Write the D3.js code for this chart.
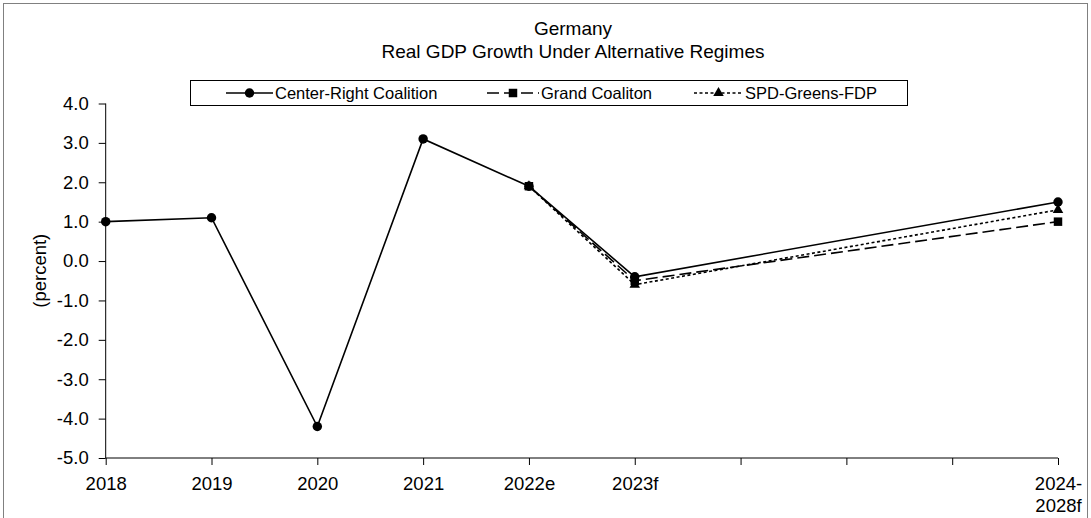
<!DOCTYPE html>
<html>
<head>
<meta charset="utf-8">
<script src="https://cdn.jsdelivr.net/npm/d3@7"></script>
<style>
  html, body { margin: 0; padding: 0; background: #fff; }
  svg { display: block; font-family: "Liberation Sans", Arial, sans-serif; }
</style>
</head>
<body>
<svg id="chart" width="1091" height="518"></svg>
<script>
// Categories along the x axis (blank slots pad the multi-year forecast)
const categories = ["2018", "2019", "2020", "2021", "2022e", "2023f", "", "", "", "2024-2028f"];

// Real GDP growth, percent, by coalition scenario
const centerRight    = [1.0, 1.1, -4.2, 3.1, 1.9, -0.4, null, null, null, 1.5];
const grandCoalition = [null, null, null, null, 1.9, -0.5, null, null, null, 1.0];
const spdGreensFdp   = [null, null, null, null, 1.9, -0.6, null, null, null, 1.3];

const yTicks = [-5, -4, -3, -2, -1, 0, 1, 2, 3, 4];
const seriesNames = ["Center-Right Coalition", "Grand Coaliton", "SPD-Greens-FDP"];

const svg = d3.select("#chart");
const W = 1091, H = 518;
const FONT = "Liberation Sans, Arial, sans-serif";
const TICK_FONT = 18.5;

// outer frame
svg.append("rect")
  .attr("x", 3.5).attr("y", 3.5)
  .attr("width", W - 7).attr("height", H + 10)
  .attr("fill", "#fff").attr("stroke", "#808080").attr("stroke-width", 1);

const x = d3.scalePoint()
  .domain(d3.range(categories.length))
  .range([105.7, 1058]);

const y = d3.scaleLinear()
  .domain([-5, 4])
  .range([458, 103.5]);

// titles
svg.append("text")
  .attr("x", 573).attr("y", 35)
  .attr("text-anchor", "middle")
  .attr("font-size", 19)
  .text("Germany");
svg.append("text")
  .attr("x", 573).attr("y", 58)
  .attr("text-anchor", "middle")
  .attr("font-size", 19)
  .text("Real GDP Growth Under Alternative Regimes");

// one decimal, plain hyphen for negatives
const fmt = v => d3.format(".1f")(v).replace("\u2212", "-");

// y axis
const yAxis = svg.append("g")
  .attr("transform", `translate(${x(0)},0)`)
  .call(d3.axisLeft(y).tickValues(yTicks).tickFormat(fmt).tickSize(7).tickPadding(10));
yAxis.selectAll("text").attr("font-size", TICK_FONT).attr("fill", "#000").attr("font-family", FONT);
yAxis.selectAll("line, path").attr("stroke", "#000");
yAxis.select(".domain").attr("d", `M0,${y(4)}V${y(-5)}`);

// y axis title
svg.append("text")
  .attr("transform", `translate(46,${(y(4) + y(-5)) / 2 - 10}) rotate(-90)`)
  .attr("text-anchor", "middle")
  .attr("font-size", TICK_FONT)
  .text("(percent)");

// x axis
const xAxis = svg.append("g")
  .attr("transform", `translate(0,${y(-5)})`)
  .call(d3.axisBottom(x).tickFormat(i => categories[i]).tickSize(7).tickPadding(12));
xAxis.selectAll("line, path").attr("stroke", "#000");
xAxis.select(".domain").attr("d", `M${x(0)},0H${x(categories.length - 1)}`);
xAxis.selectAll("text")
  .attr("font-size", TICK_FONT).attr("fill", "#000")
  .attr("font-family", FONT)
  .each(function (i) {
    const label = categories[i];
    if (label.includes("-")) {
      const parts = label.split("-");
      const t = d3.select(this).text(null);
      t.append("tspan").attr("x", 0).text(parts[0] + "-");
      t.append("tspan").attr("x", 0).attr("dy", "1.18em").text(parts[1]);
    }
  });

// lines
const line = d3.line()
  .defined(d => d.v !== null)
  .x(d => x(d.i))
  .y(d => y(d.v));

function toPoints(arr) {
  return arr.map((v, i) => ({ i, v })).filter(d => d.v !== null);
}

const series = [
  { name: seriesNames[0], values: centerRight, dash: null, marker: "circle" },
  { name: seriesNames[2], values: spdGreensFdp, dash: "3,2.5", marker: "triangle" },
  { name: seriesNames[1], values: grandCoalition, dash: "12,5", marker: "square" }
];

const symbols = {
  circle: d3.symbol().type(d3.symbolCircle).size(70),
  square: d3.symbol().type(d3.symbolSquare).size(72),
  triangle: d3.symbol().type(d3.symbolTriangle).size(48)
};

series.forEach(s => {
  const pts = toPoints(s.values);
  svg.append("path")
    .datum(pts)
    .attr("fill", "none")
    .attr("stroke", "#000")
    .attr("stroke-width", 1.6)
    .attr("stroke-dasharray", s.dash)
    .attr("d", line);
  svg.selectAll(null)
    .data(pts)
    .enter().append("path")
    .attr("transform", d => `translate(${x(d.i)},${y(d.v)})`)
    .attr("d", symbols[s.marker])
    .attr("fill", "#000");
});

// legend
const legend = svg.append("g");
legend.append("rect")
  .attr("x", 190.5).attr("y", 80.5)
  .attr("width", 717).attr("height", 25)
  .attr("fill", "#fff").attr("stroke", "#000").attr("stroke-width", 1);

const legendItems = [
  { name: seriesNames[0], x0: 226, x1: 273, dash: null, marker: "circle", tx: 275 },
  { name: seriesNames[1], x0: 487, x1: 539, dash: "12,5", marker: "square", tx: 541 },
  { name: seriesNames[2], x0: 694, x1: 743, dash: "3,2.5", marker: "triangle", tx: 745 }
];
legendItems.forEach(it => {
  const ly = 93;
  legend.append("line")
    .attr("x1", it.x0).attr("x2", it.x1)
    .attr("y1", ly).attr("y2", ly)
    .attr("stroke", "#000").attr("stroke-width", 1.6)
    .attr("stroke-dasharray", it.dash);
  legend.append("path")
    .attr("transform", `translate(${(it.x0 + it.x1) / 2},${ly})`)
    .attr("d", symbols[it.marker])
    .attr("fill", "#000");
  legend.append("text")
    .attr("x", it.tx).attr("y", ly + 6)
    .attr("font-size", 16.5)
    .text(it.name);
});
</script>
</body>
</html>
